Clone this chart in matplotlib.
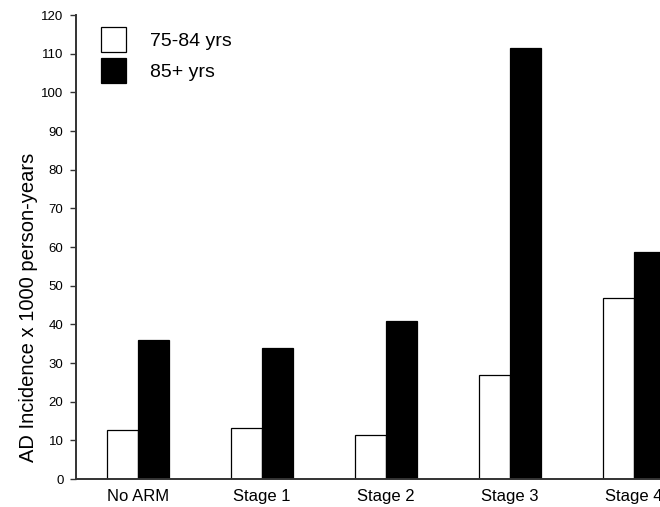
import numpy as np
import matplotlib
matplotlib.use('Agg')
import matplotlib.pyplot as plt

plt.rcParams['font.family'] = ['Liberation Sans', 'DejaVu Sans']

# AD incidence per 1000 person-years
stages = ['No ARM', 'Stage 1', 'Stage 2', 'Stage 3', 'Stage 4']
age_75_84 = [12.7, 13.1, 11.5, 26.9, 46.8]
age_85_plus = [35.9, 34.0, 40.9, 111.5, 58.7]
yticks = np.arange(0, 121, 10)

x = np.arange(len(stages))
w = 0.25

fig = plt.figure(figsize=(6.6, 5.07), dpi=100)
# right edge goes past the figure on purpose (last bar is cut off in the original)
ax = fig.add_axes([76/660, 1 - 479/507, 620/660, 464/507])

b1 = ax.bar(x - w/2, age_75_84, w, color='white', edgecolor='black', linewidth=0.9, label='75-84 yrs')
b2 = ax.bar(x + w/2, age_85_plus, w, color='black', edgecolor='black', linewidth=0.9, label='85+ yrs')

ax.set_xlim(-0.5, 4.5)
ax.set_ylim(0, 120)
ax.set_yticks(yticks)
ax.set_xticks(x)
ax.set_xticklabels(stages, fontsize=12)
ax.tick_params(axis='x', length=0, pad=7)
ax.tick_params(axis='y', direction='out', length=4, width=1, pad=5, labelsize=9.5, color='#333333')

for s in ['top', 'right']:
    ax.spines[s].set_visible(False)
for s in ['left', 'bottom']:
    ax.spines[s].set_linewidth(1.4)
    ax.spines[s].set_color('#333333')

ax.set_ylabel('AD Incidence x 1000 person-years', fontsize=14.5)
ax.yaxis.set_label_coords(-0.062, 0.37)

fig.legend(handles=[b1, b2], loc='upper left', bbox_to_anchor=(101/660, 1 - 27/507),
           frameon=False, fontsize=14, borderpad=0, borderaxespad=0,
           handlelength=1.3, handleheight=1.6, handletextpad=1.2, labelspacing=0.31)

fig.savefig('out.png', dpi=100)
